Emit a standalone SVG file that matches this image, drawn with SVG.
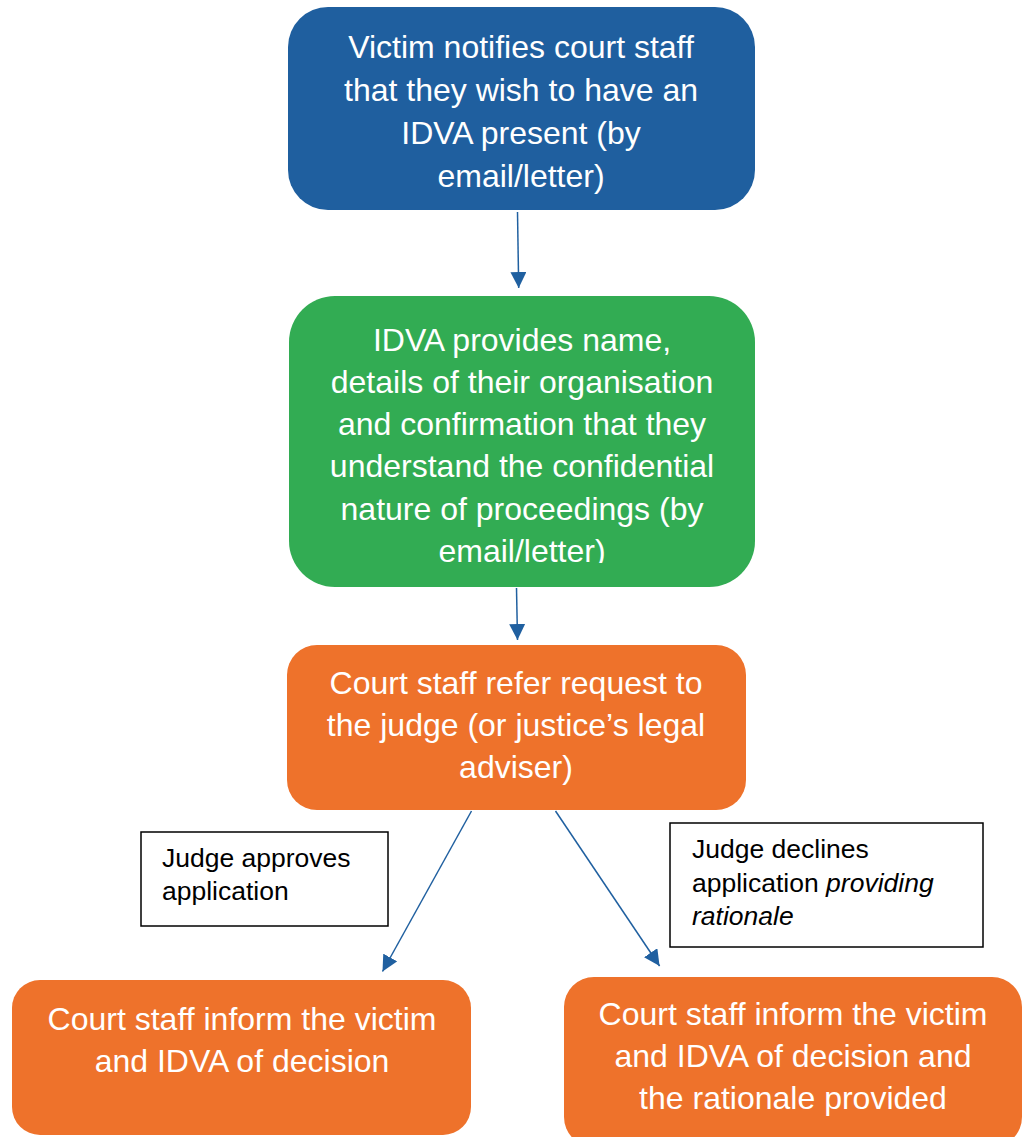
<svg xmlns="http://www.w3.org/2000/svg" width="1024" height="1137" viewBox="0 0 1024 1137">
<style>
.node text{font-family:"Liberation Sans",Arial,sans-serif;font-size:32px;fill:#fff;text-anchor:middle}
.lbl text{font-family:"Liberation Sans",Arial,sans-serif;font-size:26.5px;fill:#000}
.lbl rect{fill:#fff;stroke:#000;stroke-width:1.5}
.conn line{stroke:#2060A0;stroke-width:1.5;fill:none}
</style>
<defs>
<marker id="ah" viewBox="0 0 10 10" refX="10" refY="5" markerUnits="userSpaceOnUse" markerWidth="16" markerHeight="16" orient="auto">
<path d="M0,0 L10,5 L0,10 Z" fill="#2060A0"/>
</marker>
<clipPath id="gclip"><rect x="289" y="296" width="466" height="267"/></clipPath>
</defs>
<rect width="1024" height="1137" fill="#fff"/>
<g id="n1" class="node">
<rect x="288" y="7" width="467" height="203" rx="40" fill="#1F5F9F"/>
<text x="521" y="58">Victim notifies court staff</text>
<text x="521" y="101">that they wish to have an</text>
<text x="521" y="144">IDVA present (by</text>
<text x="521" y="187">email/letter)</text>
</g>
<g id="n2" class="node">
<rect x="289" y="296" width="466" height="291" rx="46" fill="#32AC53"/>
<g clip-path="url(#gclip)">
<text x="522" y="351">IDVA provides name,</text>
<text x="522" y="393">details of their organisation</text>
<text x="522" y="435">and confirmation that they</text>
<text x="522" y="477">understand the confidential</text>
<text x="522" y="520">nature of proceedings (by</text>
<text x="522" y="562">email/letter)</text>
</g>
</g>
<g id="n3" class="node">
<rect x="287" y="645" width="459" height="165" rx="30" fill="#EE722B"/>
<text x="516" y="694">Court staff refer request to</text>
<text x="516" y="736">the judge (or justice’s legal</text>
<text x="516" y="778">adviser)</text>
</g>
<g id="n4" class="node">
<rect x="12" y="980" width="459" height="155" rx="28" fill="#EE722B"/>
<text x="242" y="1030">Court staff inform the victim</text>
<text x="242" y="1072">and IDVA of decision</text>
</g>
<g id="n5" class="node">
<rect x="564" y="977" width="458" height="170" rx="30" fill="#EE722B"/>
<text x="793" y="1025">Court staff inform the victim</text>
<text x="793" y="1067">and IDVA of decision and</text>
<text x="793" y="1109">the rationale provided</text>
</g>
<g id="l1" class="lbl">
<rect x="141" y="832" width="247" height="94"/>
<text x="162" y="867">Judge approves</text>
<text x="162" y="900">application</text>
</g>
<g id="l2" class="lbl">
<rect x="670" y="823" width="313" height="124"/>
<text x="692" y="858">Judge declines</text>
<text x="692" y="892">application <tspan font-style="italic">providing</tspan></text>
<text x="692" y="925" font-style="italic">rationale</text>
</g>
<g id="connectors" class="conn">
<line x1="517.5" y1="212" x2="518.7" y2="288" marker-end="url(#ah)"/>
<line x1="516.5" y1="588" x2="517.5" y2="640" marker-end="url(#ah)"/>
<line x1="471.5" y1="811" x2="382.5" y2="971.5" marker-end="url(#ah)"/>
<line x1="555.5" y1="811" x2="659.6" y2="966" marker-end="url(#ah)"/>
</g>
</svg>
